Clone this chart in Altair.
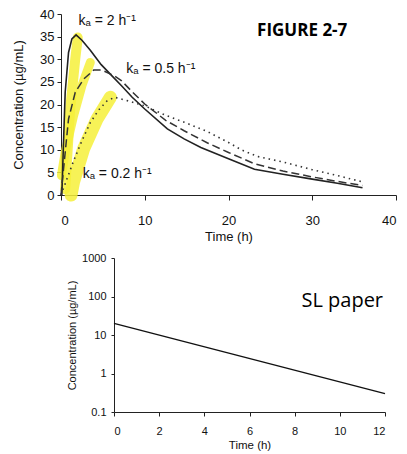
import altair as alt
import pandas as pd

FONT = "Liberation Sans"

# ---- Top panel (Figure 2-7): concentration vs time, three absorption rates
t_ka2 = [0, 0.1, 0.3, 0.5, 0.9, 1.3, 1.8, 2.5, 3.5, 4.8, 6, 7.2, 8.5, 10, 12.7, 14.7, 16.7, 20, 23.1, 26.5, 30, 33, 36]
c_ka2 = [0, 0, 11.6, 22.7, 31.5, 34.5, 35.4, 34.2, 32.0, 28.8, 26.5, 24.2, 21.6, 19.0, 14.6, 12.4, 10.5, 8.0, 5.7, 4.6, 3.5, 2.6, 1.6]

t_ka05 = [0, 0.3, 0.9, 1.7, 2.7, 3.9, 4.9, 6.3, 7.2, 8.5, 10, 12.5, 14.7, 17.5, 20, 23.1, 26.5, 30, 33, 36]
c_ka05 = [0, 5.7, 16.8, 22.7, 25.6, 27.6, 27.6, 26.4, 25.3, 22.8, 20.1, 16.5, 14.2, 11.5, 9.4, 6.9, 5.3, 4.0, 3.0, 2.1]

t_ka02 = [0, 0.5, 1.5, 2.5, 3.5, 4.5, 5.5, 6.4, 8, 10, 12.5, 14.7, 17.5, 20, 21.5, 23.5, 26.5, 30, 33, 36]
c_ka02 = [0, 2.5, 7.5, 12, 16, 18.8, 20.8, 21.6, 20.8, 19.7, 17.6, 16.1, 14.0, 11.6, 10.0, 8.5, 7.3, 5.6, 4.3, 2.9]

# yellow highlighter strokes over the rising parts
band_a_t = [0.5, 1.1, 1.7, 2.0]
band_a_c = [1.3, 19, 30, 34.8]
band_b_t = [0.05, 0.5, 1.5, 2.5, 3.5]
band_b_c = [4.3, 9.5, 17.5, 24.2, 29.3]
band_c_t = [1.2, 1.5, 2.7, 4.3, 5.9]
band_c_c = [0, 2.9, 10.2, 16.8, 21.6]
band_widths = [10, 9, 13]

label_text = ["kₐ = 2 h⁻¹", "kₐ = 0.5 h⁻¹", "kₐ = 0.2 h⁻¹"]
label_t = [2.1, 7.8, 2.6]
label_c = [38.5, 27.8, 4.6]

top_x_ticks = [0, 10, 20, 30, 40]
top_y_ticks = [0, 5, 10, 15, 20, 25, 30, 35, 40]

# ---- Bottom panel (SL paper): semi-log plot
t_sl = [0, 12]
c_sl = [20, 0.3]
bot_x_ticks = [0, 2, 4, 6, 8, 10, 12]
bot_y_ticks = [0.1, 1, 10, 100, 1000]

xs_top = alt.Scale(domain=[0, 40], nice=False)
ys_top = alt.Scale(domain=[0, 40], nice=False)


def curve(t, c):
    return pd.DataFrame({"t": t, "c": c, "o": range(len(t))})


def top_x():
    return alt.X("t:Q", scale=xs_top,
                 axis=alt.Axis(values=top_x_ticks, title="Time (h)", grid=False,
                               labelFontSize=13, titleFontSize=13, titleFontWeight="normal",
                               labelFont=FONT, titleFont=FONT, tickSize=5, labelPadding=14,
                               titlePadding=3, domainColor="#222", tickColor="#222",
                               labelColor="#111", titleColor="#111"))


def top_y():
    return alt.Y("c:Q", scale=ys_top,
                 axis=alt.Axis(values=top_y_ticks, title="Concentration (µg/mL)", grid=False,
                               labelFontSize=13, titleFontSize=13, titleFontWeight="normal",
                               labelFont=FONT, titleFont=FONT, tickSize=4, labelPadding=3,
                               titlePadding=14, domainColor="#222", tickColor="#222",
                               labelColor="#111", titleColor="#111"))


bands = []
for (bt, bc), bw in zip([(band_a_t, band_a_c), (band_b_t, band_b_c), (band_c_t, band_c_c)],
                        band_widths):
    bands.append(
        alt.Chart(curve(bt, bc)).mark_line(color="#f6f03a", strokeWidth=bw, strokeCap="round",
                                           opacity=0.85)
        .encode(x=top_x(), y=top_y(), order="o:Q")
    )

solid = alt.Chart(curve(t_ka2, c_ka2)).mark_line(color="#222", strokeWidth=1.6).encode(
    x=top_x(), y=top_y(), order="o:Q")
dashed = alt.Chart(curve(t_ka05, c_ka05)).mark_line(color="#333", strokeWidth=1.5,
                                                     strokeDash=[8, 4]).encode(
    x=top_x(), y=top_y(), order="o:Q")
dotted = alt.Chart(curve(t_ka02, c_ka02)).mark_line(color="#333", strokeWidth=1.6,
                                                     strokeDash=[1.5, 4]).encode(
    x=top_x(), y=top_y(), order="o:Q")

labels = alt.Chart(pd.DataFrame({"t": label_t, "c": label_c, "s": label_text})).mark_text(
    align="left", baseline="middle", font=FONT, fontSize=14, color="#111").encode(
    x=top_x(), y=top_y(), text="s:N")

fig_title = alt.Chart(pd.DataFrame({"t": [28.8], "c": [36.2], "s": ["FIGURE 2-7"]})).mark_text(
    align="center", baseline="middle", font="Open Sans", fontSize=17, fontWeight="bold",
    color="#000").encode(x=top_x(), y=top_y(), text="s:N")

top = alt.layer(*bands, solid, dashed, dotted, labels, fig_title).properties(width=335, height=181)

xs_bot = alt.Scale(domain=[0, 12], nice=False)
ys_bot = alt.Scale(type="log", domain=[0.1, 1000], nice=False)

bx = alt.X("t:Q", scale=xs_bot,
           axis=alt.Axis(values=bot_x_ticks, title="Time (h)", grid=False, labelFontSize=11,
                         titleFontSize=11.5, titleFontWeight="normal", labelFont=FONT,
                         titleFont=FONT, tickSize=4, labelPadding=9, titlePadding=3,
                         domainColor="#222", tickColor="#222", labelColor="#111",
                         titleColor="#111"))
by = alt.Y("c:Q", scale=ys_bot,
           axis=alt.Axis(values=bot_y_ticks, format="~g", title="Concentration (µg/mL)",
                         grid=False, labelFontSize=11, titleFontSize=11,
                         titleFontWeight="normal", labelFont=FONT, titleFont=FONT, tickSize=3,
                         labelPadding=5, titlePadding=4, domainColor="#222", tickColor="#222",
                         labelColor="#111", titleColor="#111"))

sl_line = alt.Chart(curve(t_sl, c_sl)).mark_line(color="#111", strokeWidth=1.4).encode(
    x=bx, y=by, order="o:Q")
sl_text = alt.Chart(pd.DataFrame({"t": [8.3], "c": [76], "s": ["SL paper"]})).mark_text(
    align="left", baseline="middle", font="Open Sans", fontSize=20, color="#000").encode(
    x=bx, y=by, text="s:N")

bottom = alt.layer(sl_line, sl_text).properties(width=271, height=154)

spacer = alt.Chart(pd.DataFrame({"a": [0]})).mark_point(opacity=0).encode(
    x=alt.value(0), y=alt.value(0)).properties(width=5, height=154)

chart = alt.vconcat(top, alt.hconcat(spacer, bottom, spacing=0), spacing=9).properties(
    padding={"left": 4, "top": 0, "right": 0, "bottom": 0}).configure_view(stroke=None)

chart.save("out.html", embed_options={"renderer": "svg", "actions": False})
